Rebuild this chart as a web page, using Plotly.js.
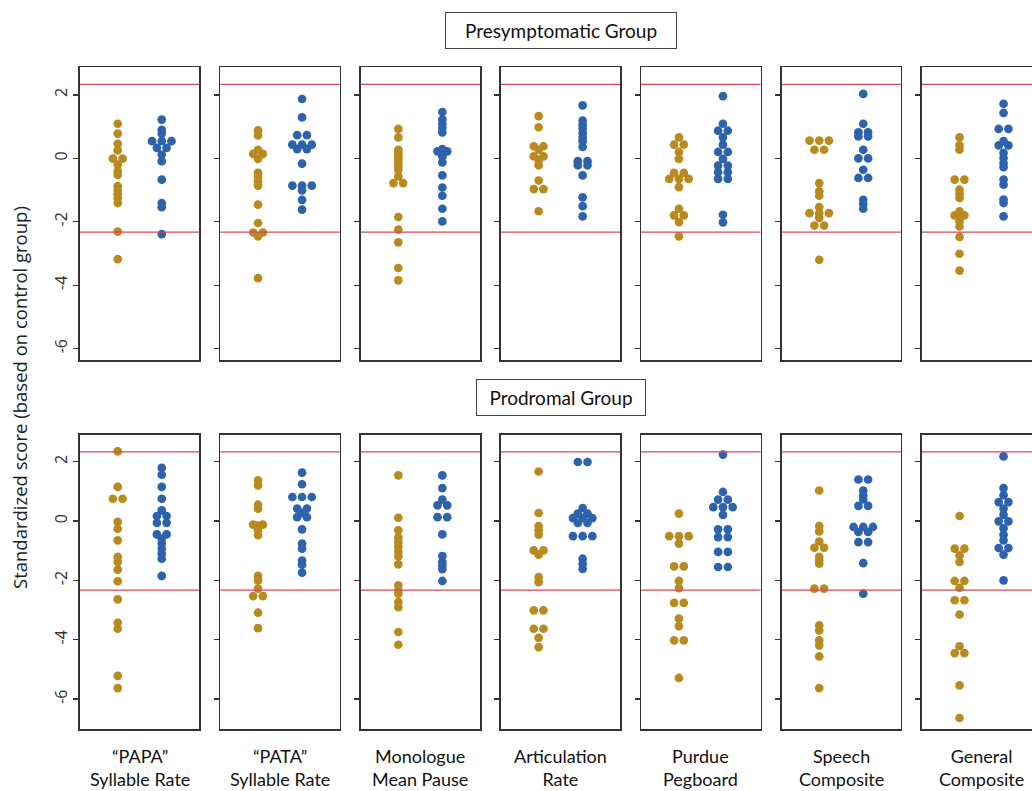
<!DOCTYPE html>
<html><head><meta charset="utf-8">
<script src="https://cdn.plot.ly/plotly-3.0.1.min.js"></script>
<style>html,body{margin:0;padding:0;overflow:hidden;background:#fff}#chart{width:1044px;height:791px}</style>
</head><body><div id="chart"></div>
<script>
// ---- data ----
const measureLabels = ['“PAPA”<br>Syllable Rate', '“PATA”<br>Syllable Rate', 'Monologue<br>Mean Pause',
  'Articulation<br>Rate', 'Purdue<br>Pegboard', 'Speech<br>Composite', 'General<br>Composite'];
const groupTitles = ['Presymptomatic Group', 'Prodromal Group'];
const yAxisTitle = 'Standardized score (based on control group)';
const yTickVals = [-6, -4, -2, 0, 2];
const cutoff = 2.33;

// Presymptomatic group, gold series (one list per measure)
const preGold = [
  [1.09, 0.78, 0.46, 0.25, -0.01, -0.01, -0.2, -0.41, -0.52, -0.88, -1.01, -1.13, -1.26, -1.41, -2.31, -3.18],
  [0.88, 0.72, 0.27, 0.14, 0.14, -0.02, -0.46, -0.59, -0.73, -0.86, -1.46, -2.04, -2.34, -2.34, -2.46, -3.78],
  [0.93, 0.66, 0.27, 0.17, 0.06, -0.04, -0.15, -0.25, -0.36, -0.57, -0.78, -0.78, -1.85, -2.25, -2.65, -3.46, -3.85],
  [1.33, 0.98, 0.38, 0.38, 0.27, 0.06, 0.06, -0.06, -0.22, -0.7, -0.97, -0.97, -1.67],
  [0.66, 0.43, 0.43, 0.2, -0.02, -0.46, -0.46, -0.65, -0.65, -0.65, -0.91, -1.59, -1.8, -1.8, -2.01, -2.46],
  [0.56, 0.56, 0.56, 0.27, 0.27, -0.78, -1.04, -1.18, -1.54, -1.73, -1.73, -1.73, -1.88, -2.12, -2.12, -3.2],
  [0.66, 0.41, 0.27, -0.67, -0.67, -0.99, -1.12, -1.25, -1.67, -1.8, -1.8, -1.83, -1.99, -2.15, -2.48, -3.01, -3.54]
];
// Presymptomatic group, blue series
const preBlue = [
  [1.22, 0.9, 0.78, 0.54, 0.54, 0.54, 0.33, 0.33, 0.12, -0.09, -0.67, -1.41, -1.54, -2.39],
  [1.87, 1.29, 0.73, 0.73, 0.43, 0.43, 0.43, 0.29, 0.29, -0.17, -0.86, -0.86, -0.86, -1.01, -1.31, -1.62],
  [1.46, 1.22, 1.09, 0.96, 0.82, 0.22, 0.29, 0.22, 0.06, -0.13, -0.54, -0.92, -1.18, -1.59, -1.99],
  [1.67, 1.19, 1.06, 0.94, 0.8, 0.66, 0.54, 0.36, -0.09, -0.09, -0.22, -0.22, -0.54, -1.23, -1.51, -1.83],
  [1.96, 1.09, 0.87, 0.87, 0.66, 0.43, 0.2, 0.2, -0.02, -0.23, -0.23, -0.44, -0.44, -0.65, -0.65, -1.78, -2.02],
  [2.03, 1.09, 0.82, 0.82, 0.69, 0.69, 0.27, 0.0, 0.0, -0.36, -0.62, -0.62, -1.31, -1.44, -1.59],
  [1.72, 1.43, 0.93, 0.93, 0.54, 0.41, 0.41, 0.17, 0.01, -0.15, -0.28, -0.67, -0.83, -1.3, -1.41, -1.83]
];
// Prodromal group, gold series
const proGold = [
  [2.35, 1.15, 0.75, 0.75, -0.03, -0.26, -0.65, -1.21, -1.38, -1.64, -2.03, -2.64, -3.43, -3.63, -5.22, -5.63],
  [1.37, 1.2, 0.55, 0.42, -0.12, -0.12, -0.15, -0.31, -0.48, -1.85, -2.0, -2.28, -2.53, -2.53, -3.09, -3.61],
  [1.54, 0.11, -0.31, -0.56, -0.72, -0.87, -1.03, -1.19, -1.46, -2.17, -2.34, -2.45, -2.73, -2.9, -3.74, -4.17],
  [1.67, 0.27, -0.17, -0.31, -0.46, -0.99, -0.99, -1.13, -1.89, -2.06, -3.01, -3.01, -3.63, -3.63, -3.94, -4.25],
  [0.25, -0.51, -0.51, -0.51, -0.76, -1.53, -1.53, -2.02, -2.26, -2.76, -2.76, -3.29, -3.54, -4.02, -4.02, -5.29],
  [1.03, -0.17, -0.35, -0.69, -0.9, -0.9, -1.21, -1.33, -1.44, -2.28, -2.28, -3.52, -3.69, -4.02, -4.19, -4.56, -5.63],
  [0.17, -0.93, -0.93, -1.16, -1.38, -2.02, -2.02, -2.25, -2.67, -2.67, -3.15, -4.22, -4.45, -4.45, -5.54, -6.64]
];
// Prodromal group, blue series
const proBlue = [
  [1.79, 1.56, 1.15, 0.75, 0.36, 0.17, 0.17, -0.06, -0.06, -0.45, -0.45, -0.6, -0.76, -0.93, -1.1, -1.27, -1.85],
  [1.63, 1.24, 0.81, 0.81, 0.81, 0.42, 0.42, 0.28, 0.13, 0.13, -0.28, -0.76, -0.93, -1.33, -1.47, -1.74],
  [1.54, 1.11, 0.72, 0.53, 0.53, 0.13, 0.13, -0.45, -1.18, -1.38, -1.5, -1.62, -2.02],
  [1.99, 1.99, 0.44, 0.25, 0.25, 0.1, 0.1, 0.1, -0.06, -0.06, -0.51, -0.51, -0.51, -1.27, -1.44, -1.61],
  [2.24, 0.98, 0.72, 0.72, 0.47, 0.47, 0.47, 0.21, -0.28, -0.28, -0.54, -0.54, -1.04, -1.04, -1.55, -1.55],
  [1.4, 1.4, 1.03, 0.87, 0.73, 0.51, 0.51, -0.2, -0.2, -0.2, -0.37, -0.37, -0.71, -0.71, -1.42, -2.45],
  [2.18, 1.11, 0.87, 0.64, 0.64, 0.42, 0.21, -0.01, -0.01, -0.24, -0.46, -0.65, -0.91, -0.91, -1.13, -2.0]
];

// ---- layout geometry ----
const W = 1044, H = 791;
const panelW = 119.3, panelGap = 140.3, panelX0 = 80;
const rowsPx = [[67.3, 360], [435, 729]];
const yRanges = [[-6.36, 2.87], [-7.01, 2.9]];
const xRange = [0.143, 2.853];
const goldColor = '#B98A1E', blueColor = '#2D62AC', redColor = '#D8475B';
const dotStepPx = 9.7;
const stepUnits = dotStepPx * (xRange[1] - xRange[0]) / panelW;

function swarm(values, center) {
  const groups = {};
  values.forEach((v, i) => { const k = v.toFixed(2); (groups[k] = groups[k] || []).push(i); });
  const xs = new Array(values.length);
  Object.values(groups).forEach(idx => {
    const n = idx.length;
    idx.forEach((i, j) => { xs[i] = center + (j - (n - 1) / 2) * stepUnits; });
  });
  return xs;
}

const seriesByRow = [[preGold, preBlue], [proGold, proBlue]];
const traces = [], shapes = [], annotations = [];
const layout = {
  width: W, height: H, showlegend: false,
  margin: {l: 0, r: 0, t: 0, b: 0},
  paper_bgcolor: '#fff', plot_bgcolor: '#fff',
  font: {family: 'Open Sans, sans-serif', color: '#222'}
};

for (let r = 0; r < 2; r++) {
  for (let c = 0; c < 7; c++) {
    const k = r * 7 + c + 1;
    const xa = 'x' + (k === 1 ? '' : k), ya = 'y' + (k === 1 ? '' : k);
    const left = panelX0 + c * panelGap;
    layout['xaxis' + (k === 1 ? '' : k)] = {
      domain: [left / W, (left + panelW) / W], range: xRange, anchor: ya,
      showline: true, mirror: true, linecolor: '#333', linewidth: 1.6,
      showgrid: false, zeroline: false, showticklabels: false, ticks: '', fixedrange: true
    };
    layout['yaxis' + (k === 1 ? '' : k)] = {
      domain: [1 - rowsPx[r][1] / H, 1 - rowsPx[r][0] / H], range: yRanges[r], anchor: xa,
      showline: true, mirror: true, linecolor: '#333', linewidth: 1.6,
      showgrid: false, zeroline: false, tickvals: yTickVals, ticktext: yTickVals.map(String),
      ticks: 'outside', ticklen: 5, tickwidth: 1.3, tickcolor: '#333',
      showticklabels: c === 0, tickangle: -90,
      tickfont: {family: 'Open Sans, sans-serif', size: 16, color: '#333'}, fixedrange: true
    };
    const [gold, blue] = seriesByRow[r];
    traces.push({type: 'scatter', mode: 'markers', xaxis: xa, yaxis: ya,
      x: swarm(gold[c], 1), y: gold[c], marker: {color: goldColor, size: 8.7, line: {width: 0}}, hoverinfo: 'y'});
    traces.push({type: 'scatter', mode: 'markers', xaxis: xa, yaxis: ya,
      x: swarm(blue[c], 2), y: blue[c], marker: {color: blueColor, size: 8.7, line: {width: 0}}, hoverinfo: 'y'});
    [cutoff, -cutoff].forEach(v => shapes.push({type: 'line', xref: xa + ' domain', yref: ya,
      x0: 0, x1: 1, y0: v, y1: v, line: {color: redColor, width: 1.3}}));
    if (r === 1) {
      annotations.push({xref: 'paper', yref: 'paper', x: (left + panelW / 2) / W, y: 1 - 767 / H,
        xanchor: 'center', yanchor: 'middle', showarrow: false, text: measureLabels[c],
        font: {family: 'Lato, sans-serif', size: 18, color: '#111'}});
    }
  }
}
[[30, groupTitles[0], 218], [397, groupTitles[1], 156]].forEach(([py, t, w]) => annotations.push({
  xref: 'paper', yref: 'paper', x: 561 / W, y: 1 - py / H, xanchor: 'center', yanchor: 'middle',
  showarrow: false, text: t, width: w, align: 'center', bordercolor: '#444', borderwidth: 1, borderpad: 6, bgcolor: '#fff',
  font: {family: 'Lato, sans-serif', size: 19, color: '#111'}}));
annotations.push({xref: 'paper', yref: 'paper', x: 20 / W, y: 1 - 398 / H, xanchor: 'center', yanchor: 'middle',
  showarrow: false, textangle: -90, text: yAxisTitle, font: {family: 'Open Sans, sans-serif', size: 18.5, color: '#222'}});
layout.shapes = shapes;
layout.annotations = annotations;
Plotly.newPlot('chart', traces, layout, {staticPlot: true, displayModeBar: false});
</script></body></html>
